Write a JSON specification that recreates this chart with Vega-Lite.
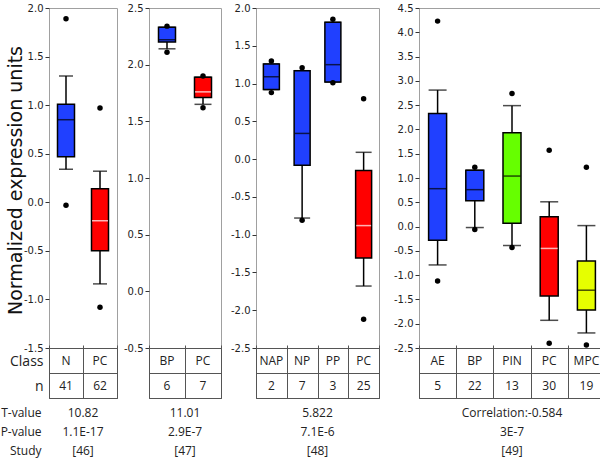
{
  "$schema": "https://vega.github.io/schema/vega-lite/v6.json",
  "padding": {"left": 0, "top": 2, "right": 1, "bottom": 0},
  "background": "white",
  "spacing": 0,
  "config": {"legend": {"disable": true}},
  "datasets": {
    "boxes": [
      {"panel": 1, "cls": "N", "lo": 0.34, "q1": 0.47, "med": 0.85, "q3": 1.01, "hi": 1.30},
      {"panel": 1, "cls": "PC", "lo": -0.84, "q1": -0.50, "med": -0.19, "q3": 0.14, "hi": 0.32},
      {"panel": 2, "cls": "BP", "lo": 2.14, "q1": 2.20, "med": 2.22, "q3": 2.33, "hi": 2.33},
      {"panel": 2, "cls": "PC", "lo": 1.65, "q1": 1.71, "med": 1.76, "q3": 1.89, "hi": 1.89},
      {"panel": 3, "cls": "NAP", "lo": 0.92, "q1": 0.92, "med": 1.09, "q3": 1.26, "hi": 1.26},
      {"panel": 3, "cls": "NP", "lo": -0.78, "q1": -0.08, "med": 0.34, "q3": 1.17, "hi": 1.17},
      {"panel": 3, "cls": "PP", "lo": 1.02, "q1": 1.02, "med": 1.25, "q3": 1.81, "hi": 1.81},
      {"panel": 3, "cls": "PC", "lo": -1.68, "q1": -1.31, "med": -0.88, "q3": -0.15, "hi": 0.09},
      {"panel": 4, "cls": "AE", "lo": -0.79, "q1": -0.28, "med": 0.78, "q3": 2.33, "hi": 2.81},
      {"panel": 4, "cls": "BP", "lo": -0.02, "q1": 0.53, "med": 0.76, "q3": 1.16, "hi": 1.16},
      {"panel": 4, "cls": "PIN", "lo": -0.39, "q1": 0.07, "med": 1.04, "q3": 1.93, "hi": 2.49},
      {"panel": 4, "cls": "PC", "lo": -1.93, "q1": -1.43, "med": -0.45, "q3": 0.20, "hi": 0.51},
      {"panel": 4, "cls": "MPC", "lo": -2.19, "q1": -1.72, "med": -1.31, "q3": -0.71, "hi": 0.02}
    ],
    "outliers": [
      {"panel": 1, "cls": "N", "v": 1.89}, {"panel": 1, "cls": "N", "v": -0.03},
      {"panel": 1, "cls": "PC", "v": 0.97}, {"panel": 1, "cls": "PC", "v": -1.08},
      {"panel": 2, "cls": "BP", "v": 2.34}, {"panel": 2, "cls": "BP", "v": 2.11},
      {"panel": 2, "cls": "PC", "v": 1.90}, {"panel": 2, "cls": "PC", "v": 1.62},
      {"panel": 3, "cls": "NAP", "v": 1.30}, {"panel": 3, "cls": "NAP", "v": 0.88},
      {"panel": 3, "cls": "NP", "v": 1.21}, {"panel": 3, "cls": "NP", "v": -0.81},
      {"panel": 3, "cls": "PP", "v": 1.85}, {"panel": 3, "cls": "PP", "v": 1.01},
      {"panel": 3, "cls": "PC", "v": 0.80}, {"panel": 3, "cls": "PC", "v": -2.12},
      {"panel": 4, "cls": "AE", "v": 4.23}, {"panel": 4, "cls": "AE", "v": -1.12},
      {"panel": 4, "cls": "BP", "v": 1.22}, {"panel": 4, "cls": "BP", "v": -0.06},
      {"panel": 4, "cls": "PIN", "v": 2.74}, {"panel": 4, "cls": "PIN", "v": -0.43},
      {"panel": 4, "cls": "PC", "v": 1.57}, {"panel": 4, "cls": "PC", "v": -2.40},
      {"panel": 4, "cls": "MPC", "v": 1.22}, {"panel": 4, "cls": "MPC", "v": -2.44}
    ],
    "counts": [
      {"panel": 1, "cls": "N", "n": 41}, {"panel": 1, "cls": "PC", "n": 62},
      {"panel": 2, "cls": "BP", "n": 6}, {"panel": 2, "cls": "PC", "n": 7},
      {"panel": 3, "cls": "NAP", "n": 2}, {"panel": 3, "cls": "NP", "n": 7}, {"panel": 3, "cls": "PP", "n": 3}, {"panel": 3, "cls": "PC", "n": 25},
      {"panel": 4, "cls": "AE", "n": 5}, {"panel": 4, "cls": "BP", "n": 22}, {"panel": 4, "cls": "PIN", "n": 13}, {"panel": 4, "cls": "PC", "n": 30}, {"panel": 4, "cls": "MPC", "n": 19}
    ],
    "stats": [
      {"panel": 1, "row": "T-value", "txt": "10.82"}, {"panel": 1, "row": "P-value", "txt": "1.1E-17"}, {"panel": 1, "row": "Study", "txt": "[46]"},
      {"panel": 2, "row": "T-value", "txt": "11.01"}, {"panel": 2, "row": "P-value", "txt": "2.9E-7"}, {"panel": 2, "row": "Study", "txt": "[47]"},
      {"panel": 3, "row": "T-value", "txt": "5.822"}, {"panel": 3, "row": "P-value", "txt": "7.1E-6"}, {"panel": 3, "row": "Study", "txt": "[48]"},
      {"panel": 4, "row": "T-value", "txt": "Correlation:-0.584"}, {"panel": 4, "row": "P-value", "txt": "3E-7"}, {"panel": 4, "row": "Study", "txt": "[49]"}
    ]
  },
  "hconcat": [
    {
      "spacing": 0, "bounds": "flush",
      "vconcat": [
        {
          "width": 68, "height": 340,
          "view": {"stroke": "#a0a0a0"},
          "encoding": {"x": {"field": "cls", "type": "nominal", "scale": {"type": "band", "domain": ["N", "PC"], "paddingInner": 0, "paddingOuter": 0}, "axis": null}},
          "layer": [
            {"data": {"name": "boxes"}, "transform": [{"filter": "datum.panel == 1"}],
             "mark": {"type": "rule", "color": "black", "strokeWidth": 1.5},
             "encoding": {"y": {"field": "lo", "type": "quantitative", "scale": {"domain": [-1.5, 2], "nice": false, "zero": false},
               "axis": {"tickCount": 7, "format": ".1f", "labelExpr": "replace(datum.label, '\u2212', '-')", "labelOverlap": false, "grid": false, "domain": false, "tickSize": 4, "tickColor": "#333", "labelPadding": 2, "labelFont": "DejaVu Sans", "labelFontSize": 10, "labelColor": "#222", "minExtent": 30,
                 "title": "Normalized expression units", "titleFont": "DejaVu Sans", "titleFontSize": 19, "titleFontWeight": "normal", "titleColor": "#111", "titlePadding": -6, "titleY": 172}},
               "y2": {"field": "hi"}}},
            {"data": {"name": "boxes"}, "transform": [{"filter": "datum.panel == 1"}],
             "mark": {"type": "tick", "color": "black", "size": 14, "thickness": 1.5},
             "encoding": {"y": {"field": "lo", "type": "quantitative"}}},
            {"data": {"name": "boxes"}, "transform": [{"filter": "datum.panel == 1"}],
             "mark": {"type": "tick", "color": "black", "size": 14, "thickness": 1.5},
             "encoding": {"y": {"field": "hi", "type": "quantitative"}}},
            {"data": {"name": "boxes"}, "transform": [{"filter": "datum.panel == 1"}],
             "mark": {"type": "bar", "size": 17, "stroke": "black", "strokeWidth": 1.5},
             "encoding": {"y": {"field": "q1", "type": "quantitative"}, "y2": {"field": "q3"},
               "color": {"field": "cls", "type": "nominal", "scale": {"domain": ["N", "PC", "BP", "NAP", "NP", "PP", "AE", "PIN", "MPC"], "range": ["#2040ff", "#ff0000", "#2040ff", "#2040ff", "#2040ff", "#2040ff", "#2040ff", "#66ff00", "#e6ff00"]}, "legend": null}}},
            {"data": {"name": "boxes"}, "transform": [{"filter": "datum.panel == 1"}],
             "mark": {"type": "tick", "size": 16, "thickness": 1.5},
             "encoding": {"y": {"field": "med", "type": "quantitative"}, "color": {"condition": {"test": "datum.cls === 'PC'", "value": "white"}, "value": "black"}}},
            {"data": {"name": "outliers"}, "transform": [{"filter": "datum.panel == 1"}],
             "mark": {"type": "point", "filled": true, "color": "black", "size": 30, "opacity": 1},
             "encoding": {"y": {"field": "v", "type": "quantitative"}}}
          ]
        },
        {
          "width": 68, "height": 50,
          "view": {"stroke": "#555"},
          "data": {"name": "counts"}, "transform": [{"filter": "datum.panel == 1"}],
          "encoding": {"x": {"field": "cls", "type": "nominal", "scale": {"type": "band", "domain": ["N", "PC"], "paddingInner": 0, "paddingOuter": 0},
            "axis": {"orient": "top", "grid": true, "gridColor": "#555", "gridOpacity": 1, "tickBand": "extent", "labels": false, "ticks": true, "tickSize": 3, "tickColor": "#555", "domain": false, "title": null}}},
          "layer": [
            {"mark": {"type": "text", "font": "Open Sans", "fontSize": 12, "color": "#222"},
             "encoding": {"y": {"datum": "Class", "type": "nominal", "scale": {"type": "band", "domain": ["Class", "n"], "paddingInner": 0, "paddingOuter": 0},
               "axis": {"grid": true, "gridColor": "#555", "gridOpacity": 1, "tickBand": "extent", "ticks": false, "domain": false, "labelFont": "Open Sans", "labelFontSize": 14, "labelColor": "#222", "labelPadding": 6, "labelOffset": 1, "title": null}},
               "text": {"field": "cls"}}},
            {"mark": {"type": "text", "font": "Open Sans", "fontSize": 12, "color": "#222"},
             "encoding": {"y": {"datum": "n", "type": "nominal"}, "text": {"field": "n"}}}
          ]
        },
        {
          "width": 68, "height": 63,
          "view": {"stroke": null},
          "data": {"name": "stats"}, "transform": [{"filter": "datum.panel == 1"}],
          "mark": {"type": "text", "font": "Open Sans", "fontSize": 12, "color": "#222"},
          "encoding": {"y": {"field": "row", "type": "nominal", "scale": {"type": "band", "domain": ["T-value", "P-value", "Study"], "paddingInner": 0, "paddingOuter": 0.135, "align": 1},
            "axis": {"ticks": false, "domain": false, "grid": false, "labelFont": "Open Sans", "labelFontSize": 12, "labelColor": "#222", "labelPadding": 8, "minExtent": 49, "title": null}},
            "text": {"field": "txt"}}
        }
      ]
    },
    {
      "spacing": 0, "bounds": "flush",
      "vconcat": [
        {
          "width": 72, "height": 340,
          "view": {"stroke": "#a0a0a0"},
          "encoding": {"x": {"field": "cls", "type": "nominal", "scale": {"type": "band", "domain": ["BP", "PC"], "paddingInner": 0, "paddingOuter": 0}, "axis": null}},
          "layer": [
            {"data": {"name": "boxes"}, "transform": [{"filter": "datum.panel == 2"}],
             "mark": {"type": "rule", "color": "black", "strokeWidth": 1.5},
             "encoding": {"y": {"field": "lo", "type": "quantitative", "scale": {"domain": [-0.5, 2.5], "nice": false, "zero": false},
               "axis": {"tickCount": 6, "format": ".1f", "labelExpr": "replace(datum.label, '\u2212', '-')", "labelOverlap": false, "labelBound": false, "labelSeparation": 0, "grid": false, "domain": false, "tickSize": 4, "tickColor": "#333", "labelPadding": 2, "labelFont": "DejaVu Sans", "labelFontSize": 10, "labelColor": "#222", "minExtent": 30, "title": null}},
               "y2": {"field": "hi"}}},
            {"data": {"name": "boxes"}, "transform": [{"filter": "datum.panel == 2"}],
             "mark": {"type": "tick", "color": "black", "size": 17, "thickness": 1.5},
             "encoding": {"y": {"field": "lo", "type": "quantitative"}}},
            {"data": {"name": "boxes"}, "transform": [{"filter": "datum.panel == 2"}],
             "mark": {"type": "tick", "color": "black", "size": 17, "thickness": 1.5},
             "encoding": {"y": {"field": "hi", "type": "quantitative"}}},
            {"data": {"name": "boxes"}, "transform": [{"filter": "datum.panel == 2"}],
             "mark": {"type": "bar", "size": 17, "stroke": "black", "strokeWidth": 1.5},
             "encoding": {"y": {"field": "q1", "type": "quantitative"}, "y2": {"field": "q3"},
               "color": {"field": "cls", "type": "nominal", "scale": {"domain": ["N", "PC", "BP", "NAP", "NP", "PP", "AE", "PIN", "MPC"], "range": ["#2040ff", "#ff0000", "#2040ff", "#2040ff", "#2040ff", "#2040ff", "#2040ff", "#66ff00", "#e6ff00"]}, "legend": null}}},
            {"data": {"name": "boxes"}, "transform": [{"filter": "datum.panel == 2"}],
             "mark": {"type": "tick", "size": 16, "thickness": 1.5},
             "encoding": {"y": {"field": "med", "type": "quantitative"}, "color": {"condition": {"test": "datum.cls === 'PC'", "value": "white"}, "value": "black"}}},
            {"data": {"name": "outliers"}, "transform": [{"filter": "datum.panel == 2"}],
             "mark": {"type": "point", "filled": true, "color": "black", "size": 30, "opacity": 1},
             "encoding": {"y": {"field": "v", "type": "quantitative"}}}
          ]
        },
        {
          "width": 72, "height": 50,
          "view": {"stroke": "#555"},
          "data": {"name": "counts"}, "transform": [{"filter": "datum.panel == 2"}],
          "encoding": {"x": {"field": "cls", "type": "nominal", "scale": {"type": "band", "domain": ["BP", "PC"], "paddingInner": 0, "paddingOuter": 0},
            "axis": {"orient": "top", "grid": true, "gridColor": "#555", "gridOpacity": 1, "tickBand": "extent", "labels": false, "ticks": true, "tickSize": 3, "tickColor": "#555", "domain": false, "title": null}}},
          "layer": [
            {"mark": {"type": "text", "font": "Open Sans", "fontSize": 12, "color": "#222"},
             "encoding": {"y": {"datum": "Class", "type": "nominal", "scale": {"type": "band", "domain": ["Class", "n"], "paddingInner": 0, "paddingOuter": 0},
               "axis": {"grid": true, "gridColor": "#555", "gridOpacity": 1, "tickBand": "extent", "ticks": false, "domain": false, "labels": false, "title": null}},
               "text": {"field": "cls"}}},
            {"mark": {"type": "text", "font": "Open Sans", "fontSize": 12, "color": "#222"},
             "encoding": {"y": {"datum": "n", "type": "nominal"}, "text": {"field": "n"}}}
          ]
        },
        {
          "width": 72, "height": 63,
          "view": {"stroke": null},
          "data": {"name": "stats"}, "transform": [{"filter": "datum.panel == 2"}],
          "mark": {"type": "text", "font": "Open Sans", "fontSize": 12, "color": "#222"},
          "encoding": {"y": {"field": "row", "type": "nominal", "scale": {"type": "band", "domain": ["T-value", "P-value", "Study"], "paddingInner": 0, "paddingOuter": 0.135, "align": 1}, "axis": null},
            "text": {"field": "txt"}}
        }
      ]
    },
    {
      "spacing": 0, "bounds": "flush",
      "vconcat": [
        {
          "width": 123, "height": 340,
          "view": {"stroke": "#a0a0a0"},
          "encoding": {"x": {"field": "cls", "type": "nominal", "scale": {"type": "band", "domain": ["NAP", "NP", "PP", "PC"], "paddingInner": 0, "paddingOuter": 0}, "axis": null}},
          "layer": [
            {"data": {"name": "boxes"}, "transform": [{"filter": "datum.panel == 3"}],
             "mark": {"type": "rule", "color": "black", "strokeWidth": 1.5},
             "encoding": {"y": {"field": "lo", "type": "quantitative", "scale": {"domain": [-2.5, 2], "nice": false, "zero": false},
               "axis": {"tickCount": 9, "format": ".1f", "labelExpr": "replace(datum.label, '\u2212', '-')", "labelOverlap": false, "grid": false, "domain": false, "tickSize": 4, "tickColor": "#333", "labelPadding": 2, "labelFont": "DejaVu Sans", "labelFontSize": 10, "labelColor": "#222", "minExtent": 33, "title": null}},
               "y2": {"field": "hi"}}},
            {"data": {"name": "boxes"}, "transform": [{"filter": "datum.panel == 3"}],
             "mark": {"type": "tick", "color": "black", "size": 16, "thickness": 1.5},
             "encoding": {"y": {"field": "lo", "type": "quantitative"}}},
            {"data": {"name": "boxes"}, "transform": [{"filter": "datum.panel == 3"}],
             "mark": {"type": "tick", "color": "black", "size": 16, "thickness": 1.5},
             "encoding": {"y": {"field": "hi", "type": "quantitative"}}},
            {"data": {"name": "boxes"}, "transform": [{"filter": "datum.panel == 3"}],
             "mark": {"type": "bar", "size": 16, "stroke": "black", "strokeWidth": 1.5},
             "encoding": {"y": {"field": "q1", "type": "quantitative"}, "y2": {"field": "q3"},
               "color": {"field": "cls", "type": "nominal", "scale": {"domain": ["N", "PC", "BP", "NAP", "NP", "PP", "AE", "PIN", "MPC"], "range": ["#2040ff", "#ff0000", "#2040ff", "#2040ff", "#2040ff", "#2040ff", "#2040ff", "#66ff00", "#e6ff00"]}, "legend": null}}},
            {"data": {"name": "boxes"}, "transform": [{"filter": "datum.panel == 3"}],
             "mark": {"type": "tick", "size": 15, "thickness": 1.5},
             "encoding": {"y": {"field": "med", "type": "quantitative"}, "color": {"condition": {"test": "datum.cls === 'PC'", "value": "white"}, "value": "black"}}},
            {"data": {"name": "outliers"}, "transform": [{"filter": "datum.panel == 3"}],
             "mark": {"type": "point", "filled": true, "color": "black", "size": 30, "opacity": 1},
             "encoding": {"y": {"field": "v", "type": "quantitative"}}}
          ]
        },
        {
          "width": 123, "height": 50,
          "view": {"stroke": "#555"},
          "data": {"name": "counts"}, "transform": [{"filter": "datum.panel == 3"}],
          "encoding": {"x": {"field": "cls", "type": "nominal", "scale": {"type": "band", "domain": ["NAP", "NP", "PP", "PC"], "paddingInner": 0, "paddingOuter": 0},
            "axis": {"orient": "top", "grid": true, "gridColor": "#555", "gridOpacity": 1, "tickBand": "extent", "labels": false, "ticks": true, "tickSize": 3, "tickColor": "#555", "domain": false, "title": null}}},
          "layer": [
            {"mark": {"type": "text", "font": "Open Sans", "fontSize": 12, "color": "#222"},
             "encoding": {"y": {"datum": "Class", "type": "nominal", "scale": {"type": "band", "domain": ["Class", "n"], "paddingInner": 0, "paddingOuter": 0},
               "axis": {"grid": true, "gridColor": "#555", "gridOpacity": 1, "tickBand": "extent", "ticks": false, "domain": false, "labels": false, "title": null}},
               "text": {"field": "cls"}}},
            {"mark": {"type": "text", "font": "Open Sans", "fontSize": 12, "color": "#222"},
             "encoding": {"y": {"datum": "n", "type": "nominal"}, "text": {"field": "n"}}}
          ]
        },
        {
          "width": 123, "height": 63,
          "view": {"stroke": null},
          "data": {"name": "stats"}, "transform": [{"filter": "datum.panel == 3"}],
          "mark": {"type": "text", "font": "Open Sans", "fontSize": 12, "color": "#222"},
          "encoding": {"y": {"field": "row", "type": "nominal", "scale": {"type": "band", "domain": ["T-value", "P-value", "Study"], "paddingInner": 0, "paddingOuter": 0.135, "align": 1}, "axis": null},
            "text": {"field": "txt"}}
        }
      ]
    },
    {
      "spacing": 0, "bounds": "flush",
      "vconcat": [
        {
          "width": 186, "height": 340,
          "view": {"stroke": "#a0a0a0"},
          "encoding": {"x": {"field": "cls", "type": "nominal", "scale": {"type": "band", "domain": ["AE", "BP", "PIN", "PC", "MPC"], "paddingInner": 0, "paddingOuter": 0}, "axis": null}},
          "layer": [
            {"data": {"name": "boxes"}, "transform": [{"filter": "datum.panel == 4"}],
             "mark": {"type": "rule", "color": "black", "strokeWidth": 1.5},
             "encoding": {"y": {"field": "lo", "type": "quantitative", "scale": {"domain": [-2.5, 4.5], "nice": false, "zero": false},
               "axis": {"tickCount": 14, "format": ".1f", "labelExpr": "replace(datum.label, '\u2212', '-')", "labelOverlap": false, "grid": false, "domain": false, "tickSize": 4, "tickColor": "#333", "labelPadding": 2, "labelFont": "DejaVu Sans", "labelFontSize": 10, "labelColor": "#222", "minExtent": 38, "title": null}},
               "y2": {"field": "hi"}}},
            {"data": {"name": "boxes"}, "transform": [{"filter": "datum.panel == 4"}],
             "mark": {"type": "tick", "color": "black", "size": 18, "thickness": 1.5},
             "encoding": {"y": {"field": "lo", "type": "quantitative"}}},
            {"data": {"name": "boxes"}, "transform": [{"filter": "datum.panel == 4"}],
             "mark": {"type": "tick", "color": "black", "size": 18, "thickness": 1.5},
             "encoding": {"y": {"field": "hi", "type": "quantitative"}}},
            {"data": {"name": "boxes"}, "transform": [{"filter": "datum.panel == 4"}],
             "mark": {"type": "bar", "size": 18, "stroke": "black", "strokeWidth": 1.5},
             "encoding": {"y": {"field": "q1", "type": "quantitative"}, "y2": {"field": "q3"},
               "color": {"field": "cls", "type": "nominal", "scale": {"domain": ["N", "PC", "BP", "NAP", "NP", "PP", "AE", "PIN", "MPC"], "range": ["#2040ff", "#ff0000", "#2040ff", "#2040ff", "#2040ff", "#2040ff", "#2040ff", "#66ff00", "#e6ff00"]}, "legend": null}}},
            {"data": {"name": "boxes"}, "transform": [{"filter": "datum.panel == 4"}],
             "mark": {"type": "tick", "size": 17, "thickness": 1.5},
             "encoding": {"y": {"field": "med", "type": "quantitative"}, "color": {"condition": {"test": "datum.cls === 'PC'", "value": "white"}, "value": "black"}}},
            {"data": {"name": "outliers"}, "transform": [{"filter": "datum.panel == 4"}],
             "mark": {"type": "point", "filled": true, "color": "black", "size": 30, "opacity": 1},
             "encoding": {"y": {"field": "v", "type": "quantitative"}}}
          ]
        },
        {
          "width": 186, "height": 50,
          "view": {"stroke": "#555"},
          "data": {"name": "counts"}, "transform": [{"filter": "datum.panel == 4"}],
          "encoding": {"x": {"field": "cls", "type": "nominal", "scale": {"type": "band", "domain": ["AE", "BP", "PIN", "PC", "MPC"], "paddingInner": 0, "paddingOuter": 0},
            "axis": {"orient": "top", "grid": true, "gridColor": "#555", "gridOpacity": 1, "tickBand": "extent", "labels": false, "ticks": true, "tickSize": 3, "tickColor": "#555", "domain": false, "title": null}}},
          "layer": [
            {"mark": {"type": "text", "font": "Open Sans", "fontSize": 12, "color": "#222"},
             "encoding": {"y": {"datum": "Class", "type": "nominal", "scale": {"type": "band", "domain": ["Class", "n"], "paddingInner": 0, "paddingOuter": 0},
               "axis": {"grid": true, "gridColor": "#555", "gridOpacity": 1, "tickBand": "extent", "ticks": false, "domain": false, "labels": false, "title": null}},
               "text": {"field": "cls"}}},
            {"mark": {"type": "text", "font": "Open Sans", "fontSize": 12, "color": "#222"},
             "encoding": {"y": {"datum": "n", "type": "nominal"}, "text": {"field": "n"}}}
          ]
        },
        {
          "width": 186, "height": 63,
          "view": {"stroke": null},
          "data": {"name": "stats"}, "transform": [{"filter": "datum.panel == 4"}],
          "mark": {"type": "text", "font": "Open Sans", "fontSize": 12, "color": "#222"},
          "encoding": {"y": {"field": "row", "type": "nominal", "scale": {"type": "band", "domain": ["T-value", "P-value", "Study"], "paddingInner": 0, "paddingOuter": 0.135, "align": 1}, "axis": null},
            "text": {"field": "txt"}}
        }
      ]
    }
  ]
}
